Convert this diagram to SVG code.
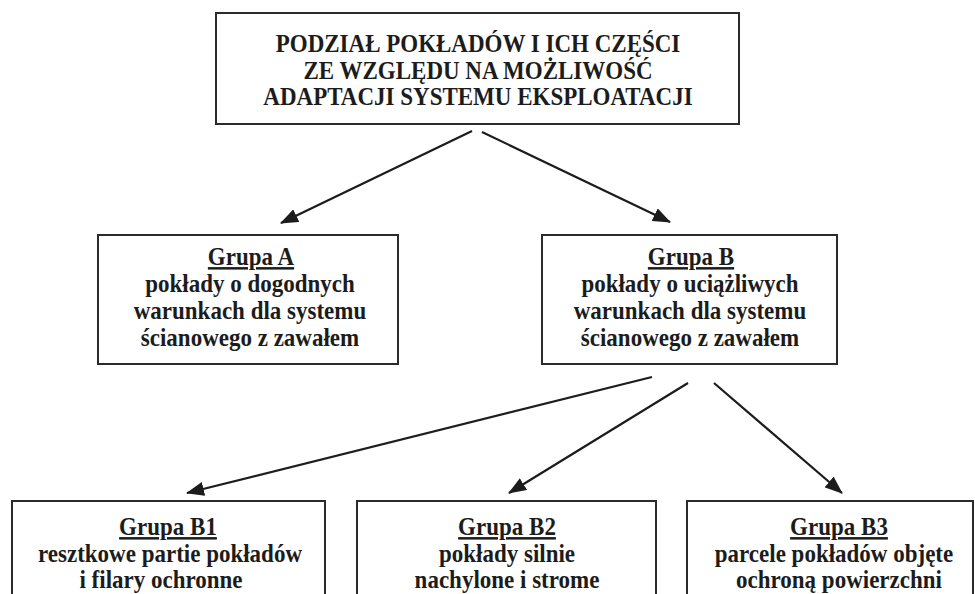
<svg xmlns="http://www.w3.org/2000/svg" width="975" height="594" viewBox="0 0 975 594">
<style>
.box{fill:#fff;stroke:#2b2b2b;stroke-width:2}
.t{font-family:"Liberation Serif","Times New Roman",serif;font-weight:bold;font-size:25px;fill:#1c1c1c;text-anchor:middle}
.u{text-decoration:underline}
.c{fill:none;stroke:#1c1c1c;stroke-width:2.2}
</style>
<defs>
<marker id="ah" viewBox="0 0 18 14" refX="17" refY="7" markerWidth="18" markerHeight="14" markerUnits="userSpaceOnUse" orient="auto">
<path d="M0,0 L18,7 L0,14 Z" fill="#1c1c1c"/>
</marker>
</defs>
<rect width="975" height="594" fill="#fff"/>
<g id="connectors">
<line class="c" x1="472" y1="131" x2="281" y2="223" marker-end="url(#ah)"/>
<line class="c" x1="482" y1="132" x2="670" y2="222" marker-end="url(#ah)"/>
<line class="c" x1="652" y1="377" x2="187" y2="493" marker-end="url(#ah)"/>
<line class="c" x1="688" y1="383" x2="509" y2="493" marker-end="url(#ah)"/>
<line class="c" x1="714" y1="383" x2="842" y2="493" marker-end="url(#ah)"/>
</g>
<g id="root">
<rect class="box" x="216" y="13" width="523" height="111"/>
<text class="t" transform="translate(478 52) scale(0.92 1)">PODZIAŁ POKŁADÓW I ICH CZĘŚCI</text>
<text class="t" transform="translate(478 78.5) scale(0.92 1)">ZE WZGLĘDU NA MOŻLIWOŚĆ</text>
<text class="t" transform="translate(478 105) scale(0.92 1)">ADAPTACJI SYSTEMU EKSPLOATACJI</text>
</g>
<g id="groupA">
<rect class="box" x="98" y="235" width="300" height="129"/>
<text class="t u" transform="translate(251 265) scale(0.92 1)">Grupa A</text>
<text class="t" transform="translate(250 292) scale(0.92 1)">pokłady o dogodnych</text>
<text class="t" transform="translate(250 319) scale(0.92 1)">warunkach dla systemu</text>
<text class="t" transform="translate(250 346) scale(0.92 1)">ścianowego z zawałem</text>
</g>
<g id="groupB">
<rect class="box" x="542" y="235" width="295" height="129"/>
<text class="t u" transform="translate(691 265) scale(0.92 1)">Grupa B</text>
<text class="t" transform="translate(690 292) scale(0.92 1)">pokłady o uciążliwych</text>
<text class="t" transform="translate(690 319) scale(0.92 1)">warunkach dla systemu</text>
<text class="t" transform="translate(690 346) scale(0.92 1)">ścianowego z zawałem</text>
</g>
<g id="groupB1">
<rect class="box" x="12" y="501" width="313" height="110"/>
<text class="t u" transform="translate(168 535) scale(0.92 1)">Grupa B1</text>
<text class="t" transform="translate(170 562) scale(0.92 1)">resztkowe partie pokładów</text>
<text class="t" transform="translate(161 588) scale(0.92 1)">i filary ochronne</text>
</g>
<g id="groupB2">
<rect class="box" x="357" y="501" width="299" height="110"/>
<text class="t u" transform="translate(507 535) scale(0.92 1)">Grupa B2</text>
<text class="t" transform="translate(507 562) scale(0.92 1)">pokłady silnie</text>
<text class="t" transform="translate(507 588) scale(0.92 1)">nachylone i strome</text>
</g>
<g id="groupB3">
<rect class="box" x="687" y="501" width="286" height="110"/>
<text class="t u" transform="translate(839 535) scale(0.92 1)">Grupa B3</text>
<text class="t" transform="translate(834 562) scale(0.92 1)">parcele pokładów objęte</text>
<text class="t" transform="translate(839 588) scale(0.92 1)">ochroną powierzchni</text>
</g>
</svg>
